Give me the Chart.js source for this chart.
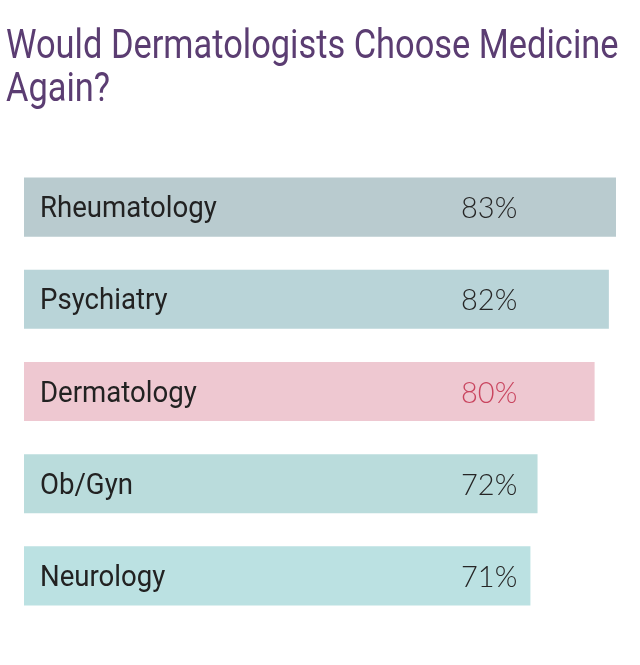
<!DOCTYPE html>
<html lang="en">
<head>
<meta charset="UTF-8">
<title>Would Dermatologists Choose Medicine Again?</title>
<script src="https://cdn.jsdelivr.net/npm/chart.js"></script>
<style>
  html, body { margin: 0; padding: 0; background: #fff; }
  #wrap { position: relative; width: 640px; height: 665px; }
  #title {
    position: absolute; left: 6px; top: 23px; margin: 0;
    font-family: Roboto, sans-serif; font-weight: 400; font-size: 40px;
    line-height: 43px; color: #5b3d72; white-space: nowrap;
    transform: scaleX(0.86); transform-origin: left top;
  }
  canvas { position: absolute; left: 0; top: 0; }
</style>
</head>
<body>
<div id="wrap">
  <canvas id="chart" width="640" height="665"></canvas>
  <h1 id="title">Would Dermatologists Choose Medicine<br>Again?</h1>
</div>
<script>
// data
const specialties = ['Rheumatology', 'Psychiatry', 'Dermatology', 'Ob/Gyn', 'Neurology'];
const wouldChooseAgain = [83, 82, 80, 72, 71];
const barColors = ['#b9cbcf', '#b9d4d8', '#eec8d1', '#badcdc', '#bbe1e2'];
const valueColors = ['#262626', '#262626', '#c9455f', '#262626', '#262626'];

// writes the specialty name and the percentage inside each bar
const insideLabels = {
  id: 'insideLabels',
  afterDatasetsDraw(chart) {
    const ctx = chart.ctx;
    const meta = chart.getDatasetMeta(0);
    ctx.save();
    meta.data.forEach((bar, i) => {
      const left = bar.base;
      // name, narrowed like the original condensed face
      ctx.save();
      ctx.translate(left + 16, bar.y + 10);
      ctx.scale(0.92, 1);
      ctx.font = '400 30px Roboto';
      ctx.fillStyle = '#222';
      ctx.textAlign = 'left';
      ctx.textBaseline = 'alphabetic';
      ctx.fillText(chart.data.labels[i], 0, 0);
      ctx.restore();
      // value
      ctx.font = '300 29px Lato';
      ctx.fillStyle = valueColors[i];
      ctx.textAlign = 'left';
      ctx.textBaseline = 'alphabetic';
      ctx.fillText(wouldChooseAgain[i] + '%', left + 437, bar.y + 11);
    });
    ctx.restore();
  }
};

new Chart(document.getElementById('chart'), {
  type: 'bar',
  data: {
    labels: specialties,
    datasets: [{
      data: wouldChooseAgain,
      backgroundColor: barColors,
      borderWidth: 0,
      categoryPercentage: 1,
      barPercentage: 0.641
    }]
  },
  options: {
    indexAxis: 'y',
    responsive: false,
    animation: false,
    layout: { padding: { left: 24, right: 24, top: 161, bottom: 43 } },
    scales: {
      x: { min: 0, max: 83, display: false },
      y: { display: false }
    },
    plugins: {
      legend: { display: false },
      tooltip: { enabled: false }
    }
  },
  plugins: [insideLabels]
});
</script>
</body>
</html>
